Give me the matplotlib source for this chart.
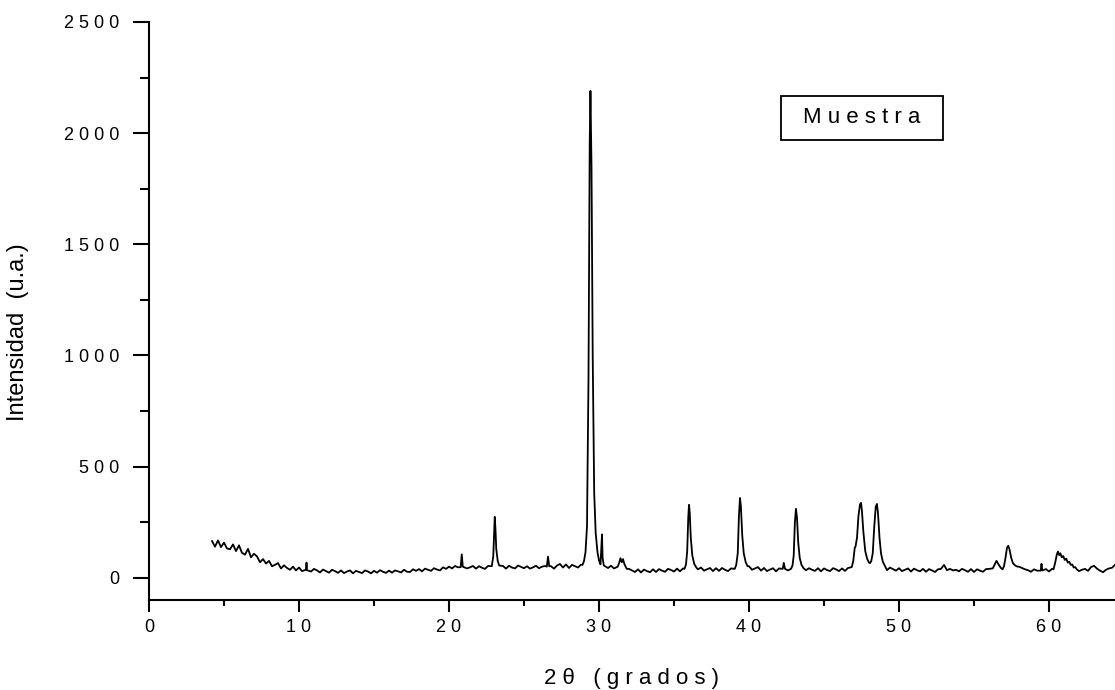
import numpy as np
import matplotlib
matplotlib.use("Agg")
import matplotlib.pyplot as plt
from matplotlib.patches import Rectangle
from matplotlib.ticker import MultipleLocator, FuncFormatter

plt.rcParams['font.family'] = ['Liberation Sans', 'DejaVu Sans']

# scan: start angle, step, counts (background read every 0.2 deg)
bg_start = 4.2
bg_step = 0.2
bg_counts = [
    165, 140, 168, 138,                      # 4.2 - 4.8
    158, 132, 128, 150, 120,                 # 5
    146, 112, 104, 130, 92,                  # 6
    108, 96, 70, 84, 64,                     # 7
    76, 52, 58, 66, 42,                      # 8
    56, 44, 36, 50, 33,                      # 9
    46, 30, 29, 40, 28,                      # 10
    40, 33, 24, 37, 30,                      # 11
    23, 36, 30, 22, 33,                      # 12
    21, 28, 33, 20, 31,                      # 13
    26, 21, 33, 28, 20,                      # 14
    31, 23, 34, 27, 22,                      # 15
    32, 23, 33, 29, 24,                      # 16
    36, 27, 26, 38, 31,                      # 17
    39, 29, 41, 36, 31,                      # 18
    43, 37, 33, 47, 40,                      # 19
    50, 42, 53, 47, 43,                      # 20
    55, 42, 47, 53, 41,                      # 21
    52, 45, 40, 53, 43,                      # 22
    48, 52, 42, 53, 41,                      # 23
    54, 46, 42, 55, 49,                      # 24
    43, 52, 41, 47, 54,                      # 25
    43, 50, 53, 42, 52,                      # 26
    41, 55, 62, 46, 60,                      # 27
    44, 58, 52, 46, 59,                      # 28
    60, 80, 900, 400, 150,                   # 29
    70, 60, 52, 44, 54,                      # 30
    42, 54, 70, 75, 55,                      # 31
    40, 33, 26, 38, 24,                      # 32
    37, 30, 25, 38, 26,                      # 33
    39, 32, 27, 40, 35,                      # 34
    28, 41, 29, 42, 45,                      # 35
    300, 90, 45, 38, 46,                     # 36
    32, 38, 44, 30, 43,                      # 37
    31, 44, 36, 30, 42,                      # 38
    40, 150, 300, 110, 60,                   # 39
    52, 36, 42, 48, 32,                      # 40
    44, 30, 37, 43, 29,                      # 41
    42, 31, 50, 33, 45,                      # 42
    150, 250, 70, 45, 34,                    # 43
    43, 36, 31, 43, 29,                      # 44
    42, 35, 30, 43, 38,                      # 45
    30, 42, 31, 44, 42,                      # 46
    140, 280, 330, 120, 70,                  # 47
    66, 110, 330, 180, 72,                   # 48
    44, 34, 46, 39, 32,                      # 49
    43, 30, 36, 42, 28,                      # 50
    41, 34, 29, 40, 27,                      # 51
    39, 33, 26, 38, 40,                      # 52
    58, 34, 40, 33, 36,                      # 53
    29, 40, 34, 27, 39,                      # 54
    26, 38, 32, 27, 39,                      # 55
    40, 42, 76, 45, 52,                      # 56
    135, 130, 65, 50, 50,                    # 57
    50, 44, 38, 34, 27,                      # 58
    38, 32, 37, 26, 39,                      # 59
    28, 40, 100, 110, 95,                    # 60
    95, 80, 72, 55, 42,                      # 61
    30, 36, 40, 31, 48,                      # 62
    54, 41, 32, 25, 36,                      # 63
    42, 45, 58,                              # 64.0 - 64.4
]

# finer readings around the reflections
peak_theta = [
    10.47, 10.5, 10.53,
    20.78, 20.85, 20.92,
    22.85, 22.95, 23.0, 23.05, 23.1, 23.15, 23.25, 23.35,
    26.52, 26.6, 26.68,
    28.9, 29.0, 29.1, 29.2, 29.3, 29.38, 29.43, 29.5, 29.58, 29.68, 29.78, 29.9,
    30.0, 30.1, 30.17, 30.2, 30.24, 30.32,
    31.25, 31.35, 31.43, 31.52, 31.6, 31.7, 31.85,
    35.7, 35.8, 35.88, 35.95, 36.0, 36.05, 36.12, 36.22, 36.35, 36.5,
    39.05, 39.15, 39.25, 39.33, 39.4, 39.46, 39.55, 39.65, 39.78, 39.9,
    42.25, 42.32, 42.4,
    42.8, 42.9, 42.98, 43.06, 43.13, 43.2, 43.28, 43.38, 43.5, 43.65,
    46.85, 46.95, 47.05, 47.1, 47.2, 47.3, 47.4, 47.47, 47.53, 47.62, 47.75,
    47.88, 48.0, 48.07, 48.15, 48.25, 48.35, 48.45, 48.53, 48.6, 48.7, 48.8,
    48.92, 49.05,
    56.25, 56.4, 56.5, 56.62, 56.78, 56.9, 57.0, 57.1, 57.2, 57.28, 57.36,
    57.48, 57.6, 57.75, 57.9,
    59.45, 59.5, 59.55,
    60.3, 60.42, 60.52, 60.6, 60.68, 60.76, 60.85, 60.95, 61.05, 61.15, 61.25,
    61.35, 61.45, 61.55, 61.65, 61.75, 61.85,
]
peak_counts = [
    36, 68, 34,
    48, 105, 50,
    52, 95, 190, 274, 215, 130, 75, 55,
    50, 95, 52,
    58, 75, 115, 230, 900, 1950, 2190, 1850, 1000, 380, 200, 115,
    78, 60, 150, 195, 90, 55,
    50, 68, 88, 70, 84, 60, 40,
    40, 60, 120, 270, 328, 290, 180, 100, 62, 45,
    40, 58, 110, 280, 359, 320, 190, 110, 70, 52,
    40, 67, 40,
    40, 55, 100, 250, 310, 270, 160, 90, 58, 42,
    48, 75, 135, 140, 180, 280, 330, 337, 300, 210, 120,
    85, 68, 66, 75, 110, 230, 320, 332, 290, 180, 110,
    72, 55,
    42, 62, 76, 62, 45, 38, 52, 90, 135, 144, 130,
    90, 65, 55, 50,
    32, 63, 33,
    38, 70, 105, 118, 102, 110, 92, 98, 80, 86, 68,
    72, 58, 60, 46, 48, 38,
]

bg_theta = bg_start + bg_step * np.arange(len(bg_counts))
pk_theta = np.array(peak_theta)
near_peak = np.array([np.min(np.abs(pk_theta - t)) < 0.09 for t in bg_theta])

theta = np.concatenate([bg_theta[~near_peak], pk_theta])
counts = np.concatenate([np.array(bg_counts)[~near_peak], np.array(peak_counts)])
order = np.argsort(theta)
theta = theta[order]
counts = counts[order]

fig = plt.figure(figsize=(11.15, 6.9), dpi=100)
ax = fig.add_axes([149 / 1115, 90 / 690, 966 / 1115, 578 / 690])

ax.plot(theta, counts, color='black', lw=1.3)

ax.set_xlim(0, 64.4)
ax.set_ylim(-100, 2500)

for s in ['top', 'right']:
    ax.spines[s].set_visible(False)
for s in ['left', 'bottom']:
    ax.spines[s].set_linewidth(1.5)

spaced = FuncFormatter(lambda v, p: ' '.join(str(int(round(v)))))
ax.xaxis.set_major_locator(MultipleLocator(10))
ax.xaxis.set_minor_locator(MultipleLocator(5))
ax.yaxis.set_major_locator(MultipleLocator(500))
ax.yaxis.set_minor_locator(MultipleLocator(250))
ax.xaxis.set_major_formatter(spaced)
ax.yaxis.set_major_formatter(spaced)

ax.tick_params(axis='x', which='major', direction='out', length=8.5, width=1.5,
               pad=5, labelsize=13)
ax.tick_params(axis='x', which='minor', direction='out', length=4.5, width=1.5)
ax.tick_params(axis='y', which='major', direction='out', length=11.5, width=1.5,
               pad=10, labelsize=13)
ax.tick_params(axis='y', which='minor', direction='out', length=6.5, width=1.5)

ax.set_xlabel('2 θ   ( g r a d o s )', fontsize=16)
ax.xaxis.set_label_coords(0.5, -0.118)
ax.set_ylabel('Intensidad  (u.a.)', fontsize=17)
ax.yaxis.set_label_coords(-0.124, 0.464)

ax.add_patch(Rectangle((0.654, 0.796), 0.1677, 0.0761, transform=ax.transAxes,
                       fill=False, edgecolor='black', lw=1.3, clip_on=False))
ax.text(0.738, 0.834, 'M u e s t r a', transform=ax.transAxes, fontsize=16,
        ha='center', va='center')

fig.savefig('out.png', dpi=100)
